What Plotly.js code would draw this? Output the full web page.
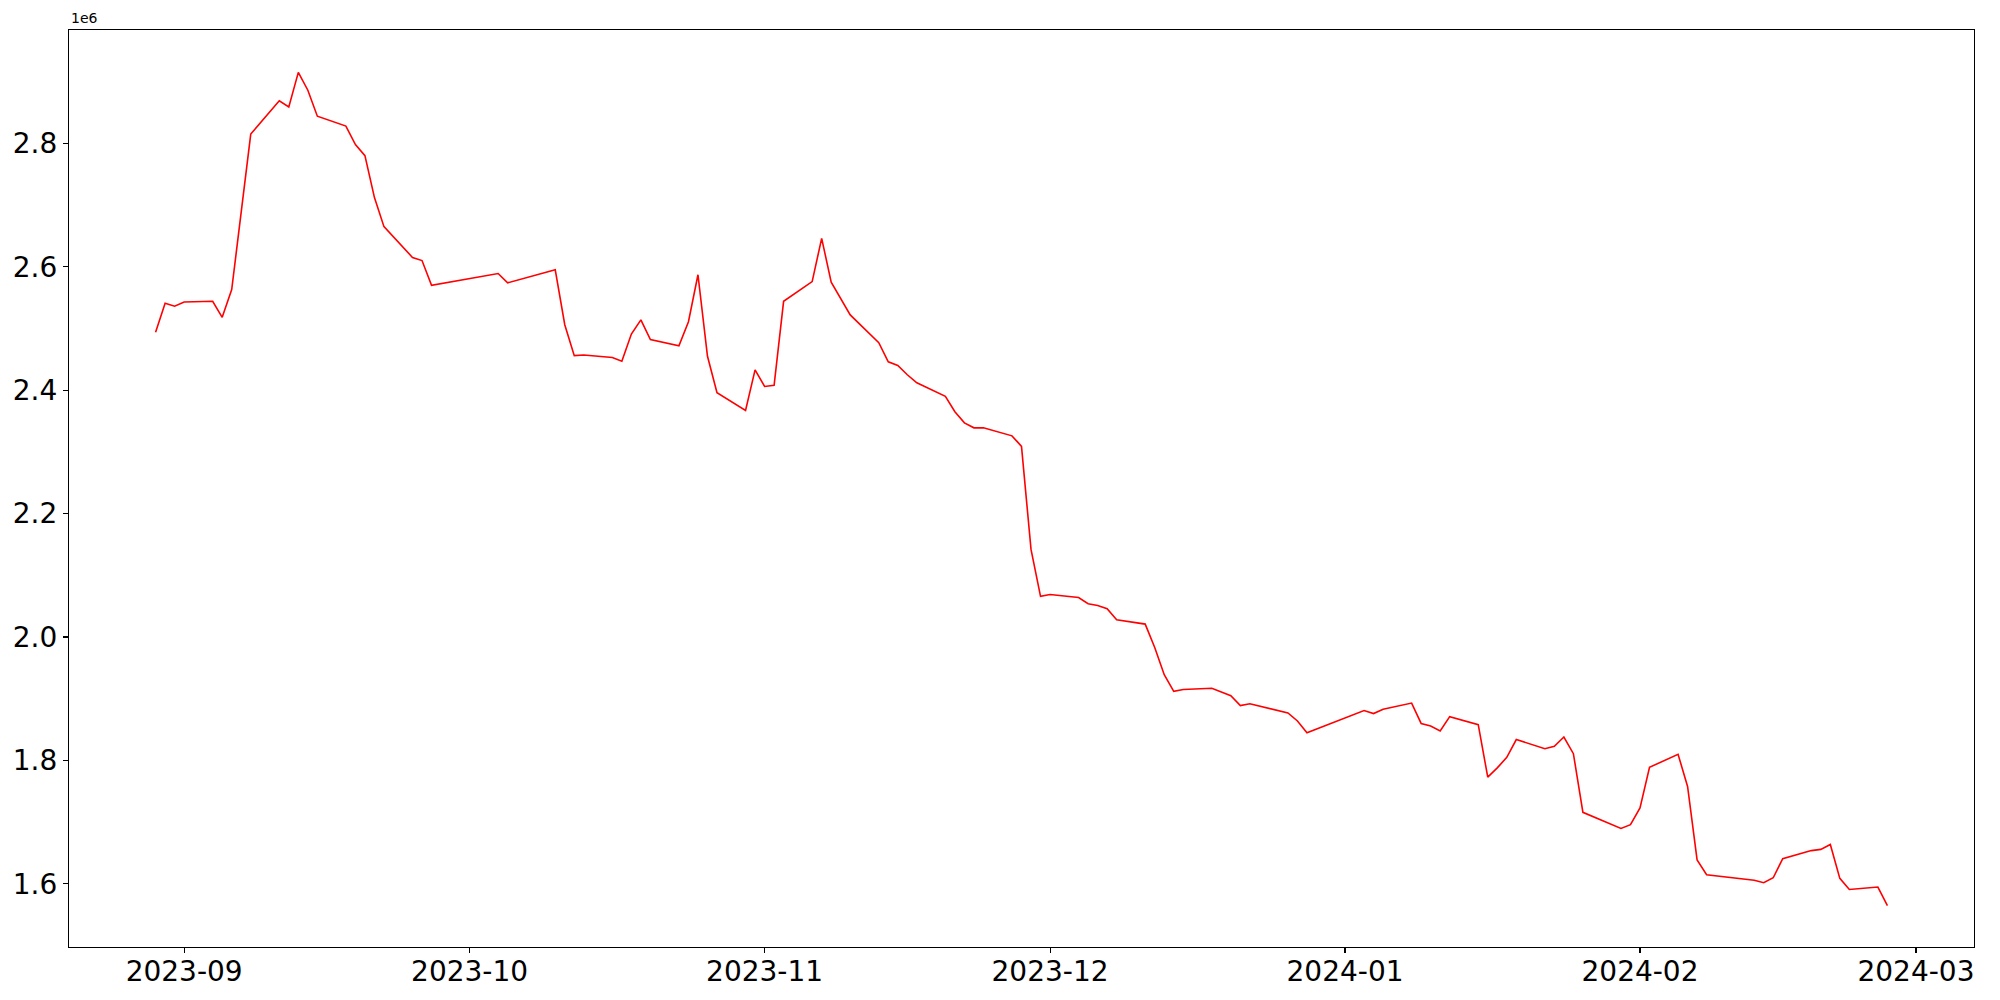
<!DOCTYPE html>
<html>
<head>
<meta charset="utf-8">
<script src="https://cdn.plot.ly/plotly-3.0.1.min.js"></script>
<style>html,body{margin:0;padding:0;background:#fff;}#chart{width:2000px;height:1000px;}</style>
</head>
<body>
<div id="chart"></div>
<script>
// Trading dates (Korean market calendar)
const dates = [
"2023-08-29","2023-08-30","2023-08-31","2023-09-01","2023-09-04","2023-09-05","2023-09-06","2023-09-07","2023-09-08",
"2023-09-11","2023-09-12","2023-09-13","2023-09-14","2023-09-15","2023-09-18","2023-09-19","2023-09-20","2023-09-21","2023-09-22",
"2023-09-25","2023-09-26","2023-09-27","2023-10-04","2023-10-05","2023-10-06","2023-10-10","2023-10-11","2023-10-12","2023-10-13",
"2023-10-16","2023-10-17","2023-10-18","2023-10-19","2023-10-20","2023-10-23","2023-10-24","2023-10-25","2023-10-26","2023-10-27",
"2023-10-30","2023-10-31","2023-11-01","2023-11-02","2023-11-03","2023-11-06","2023-11-07","2023-11-08","2023-11-09","2023-11-10",
"2023-11-13","2023-11-14","2023-11-15","2023-11-16","2023-11-17","2023-11-20","2023-11-21","2023-11-22","2023-11-23","2023-11-24",
"2023-11-27","2023-11-28","2023-11-29","2023-11-30","2023-12-01","2023-12-04","2023-12-05","2023-12-06","2023-12-07","2023-12-08",
"2023-12-11","2023-12-12","2023-12-13","2023-12-14","2023-12-15","2023-12-18","2023-12-19","2023-12-20","2023-12-21","2023-12-22",
"2023-12-26","2023-12-27","2023-12-28","2024-01-02","2024-01-03","2024-01-04","2024-01-05","2024-01-08","2024-01-09","2024-01-10",
"2024-01-11","2024-01-12","2024-01-15","2024-01-16","2024-01-17","2024-01-18","2024-01-19","2024-01-22","2024-01-23","2024-01-24",
"2024-01-25","2024-01-26","2024-01-29","2024-01-30","2024-01-31","2024-02-01","2024-02-02","2024-02-05","2024-02-06","2024-02-07",
"2024-02-08","2024-02-13","2024-02-14","2024-02-15","2024-02-16","2024-02-19","2024-02-20","2024-02-21","2024-02-22","2024-02-23",
"2024-02-26","2024-02-27"
];

// Values in units of 1e6
const valuesMillions = [
2.494,2.541,2.536,2.543,2.544,2.518,2.563,2.690,2.815,
2.869,2.859,2.915,2.886,2.844,2.828,2.798,2.780,2.712,2.665,
2.615,2.610,2.570,2.589,2.574,2.578,2.595,2.506,2.456,2.457,
2.453,2.447,2.491,2.514,2.482,2.472,2.511,2.587,2.455,2.396,
2.367,2.433,2.406,2.408,2.544,2.576,2.646,2.575,2.548,2.522,
2.477,2.446,2.440,2.425,2.412,2.390,2.365,2.347,2.339,2.339,
2.326,2.309,2.142,2.066,2.069,2.064,2.054,2.051,2.046,2.028,
2.021,1.983,1.939,1.912,1.915,1.917,1.911,1.905,1.889,1.892,
1.877,1.864,1.845,1.875,1.881,1.876,1.883,1.893,1.860,1.856,
1.848,1.871,1.858,1.773,1.788,1.805,1.834,1.819,1.823,1.838,
1.811,1.716,1.697,1.690,1.696,1.723,1.789,1.810,1.758,1.639,
1.615,1.606,1.602,1.610,1.641,1.654,1.656,1.664,1.609,1.591,
1.595,1.565
];

const yTickVals = [1.6, 1.8, 2.0, 2.2, 2.4, 2.6, 2.8];
const yTickText = ["1.6", "1.8", "2.0", "2.2", "2.4", "2.6", "2.8"];
const offsetLabel = "1e6";

const font = "DejaVu Sans, Liberation Sans, sans-serif";

const trace = {
  x: dates,
  y: valuesMillions,
  type: "scatter",
  mode: "lines",
  line: {color: "#ff0000", width: 1.6},
  hoverinfo: "x+y"
};

const layout = {
  width: 2000,
  height: 1000,
  paper_bgcolor: "#ffffff",
  plot_bgcolor: "#ffffff",
  showlegend: false,
  margin: {l: 69, r: 26, t: 30, b: 53, pad: 0},
  xaxis: {
    type: "date",
    range: ["2023-08-19 21:36", "2024-03-07 02:24"],
    tick0: "2023-09-01",
    dtick: "M1",
    tickformat: "%Y-%m",
    showgrid: false,
    zeroline: false,
    showline: true,
    mirror: true,
    linecolor: "#000000",
    linewidth: 1.1,
    ticks: "outside",
    ticklen: 5,
    tickwidth: 1.1,
    tickcolor: "#000000",
    ticklabelstandoff: -6,
    tickfont: {family: font, size: 28, color: "#000000"}
  },
  yaxis: {
    range: [1.4978, 2.9836],
    tickvals: yTickVals,
    ticktext: yTickText,
    showgrid: false,
    zeroline: false,
    showline: true,
    mirror: true,
    linecolor: "#000000",
    linewidth: 1.1,
    ticks: "outside",
    ticklen: 5,
    tickwidth: 1.1,
    tickcolor: "#000000",
    tickfont: {family: font, size: 28, color: "#000000"}
  },
  annotations: [{
    text: offsetLabel,
    xref: "paper", yref: "paper",
    x: 0, y: 1,
    xanchor: "left", yanchor: "bottom",
    yshift: 2,
    showarrow: false,
    font: {family: font, size: 14, color: "#000000"}
  }]
};

Plotly.newPlot("chart", [trace], layout, {displayModeBar: false, staticPlot: true});
</script>
</body>
</html>
